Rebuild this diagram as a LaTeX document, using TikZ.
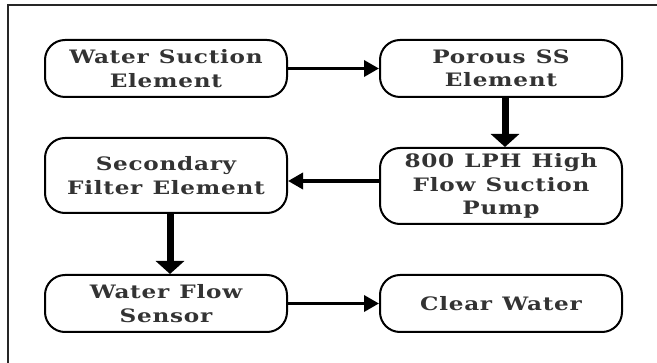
\documentclass[tikz,border=0pt]{standalone}
\usepackage{fontspec}
\setmainfont{DejaVu Serif}[FakeStretch=1.25,LetterSpace=4]
\usetikzlibrary{arrows.meta}
\definecolor{txt}{HTML}{333333}
\newcommand\widespaces{\spaceskip=0.55em\relax}
\begin{document}
\begin{tikzpicture}[x=1pt,y=-1pt,
  stepbox/.style={draw=black,line width=2pt,rounded corners=20pt,minimum width=242pt,
    text width=236pt,align=center,font=\fontsize{18.5}{23.5}\selectfont\bfseries,text=txt,inner sep=0pt,
    execute at begin node=\widespaces},
  harrow/.style={line width=3.5pt,-{Triangle[length=15pt,width=16pt]}},
  varrow/.style={line width=7pt,-{Triangle[length=13pt,width=28pt]}}]
\useasboundingbox (0,0) rectangle (657,363);
\draw[line width=2pt,draw=black!85] (8,363) -- (8,5) -- (657,5);
\node[stepbox,minimum height=57pt] (b1) at (166,68.5) {Water Suction\\Element};
\node[stepbox,minimum height=57pt] (b2) at (501,68.5) {Porous SS\\Element};
\node[stepbox,minimum height=76pt] (b3) at (501,186) {800 LPH High\\Flow Suction\\Pump};
\node[stepbox,minimum height=75pt] (b4) at (166,175.5) {Secondary\\Filter Element};
\node[stepbox,minimum height=57pt] (b5) at (166,303.5) {Water Flow\\Sensor};
\node[stepbox,minimum height=57pt] (b6) at (501,303.5) {Clear Water};
\draw[harrow] (b1) -- (b2);
\draw[varrow] ([xshift=4pt]b2.south) -- ([xshift=4pt]b3.north);
\draw[harrow] (b3.west |- 0,181) -- (b4.east |- 0,181);
\draw[varrow] ([xshift=4pt]b4.south) -- ([xshift=4pt]b5.north);
\draw[harrow] (b5) -- (b6);
\end{tikzpicture}
\end{document}
